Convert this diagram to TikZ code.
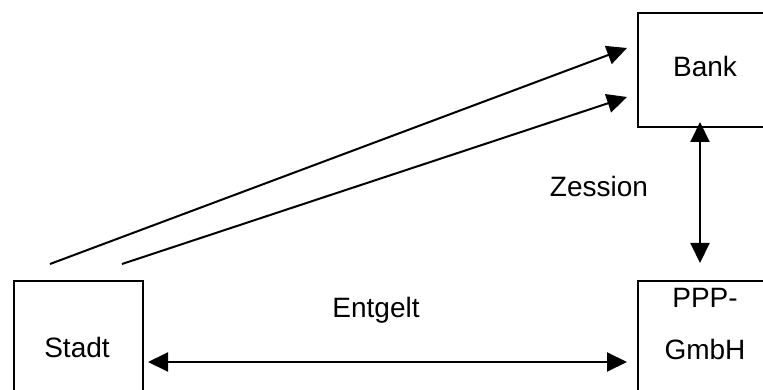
\documentclass[tikz,border=0pt]{standalone}
\usepackage{fontspec}
\setmainfont{Liberation Sans}
\usetikzlibrary{arrows.meta}
\begin{document}
\begin{tikzpicture}[x=1pt,y=-1pt,
  boxstyle/.style={draw,line width=2.4pt,rectangle,inner sep=0pt},
  lbl/.style={font=\fontsize{28}{34}\selectfont,inner sep=0pt,anchor=base},
  conn/.style={line width=2pt},
  tip/.style={-{Triangle[length=20pt,width=19pt]}},
  tips/.style={{Triangle[length=20pt,width=19pt]}-{Triangle[length=20pt,width=19pt]}}]
\useasboundingbox (0,0) rectangle (763,390);
\clip (0,0) rectangle (763,390);
% boxes
\node[boxstyle,minimum width=129pt,minimum height=160pt,anchor=north west] (stadt) at (13,280) {};
\node[boxstyle,minimum width=200pt,minimum height=114pt,anchor=north west] (bank) at (637,12) {};
\node[boxstyle,minimum width=200pt,minimum height=160pt,anchor=north west] (ppp) at (637,280) {};
% labels
\node[lbl] (tstadt) at (77,357) {Stadt};
\node[lbl] (tbank) at (705,77) {Bank};
\node[lbl] (tppp1) at (705,307) {PPP-};
\node[lbl] (tppp2) at (705,359) {GmbH};
\node[lbl] (tzess) at (599,197) {Zession};
\node[lbl] (tentg) at (376,317) {Entgelt};
% connector ends
\coordinate (s1) at (50,264);
\coordinate (s2) at (122,264);
\coordinate (b1) at (627,48);
\coordinate (b2) at (627,97);
\coordinate (hl) at (148,362);
\coordinate (hr) at (627,362);
\coordinate (vt) at (700,122);
\coordinate (vb) at (700,263);
\draw[conn,tip] (s1) -- (b1);
\draw[conn,tip] (s2) -- (b2);
\draw[conn,tips] (hl) -- (hr);
\draw[conn,tips] (vt) -- (vb);
\end{tikzpicture}
\end{document}
